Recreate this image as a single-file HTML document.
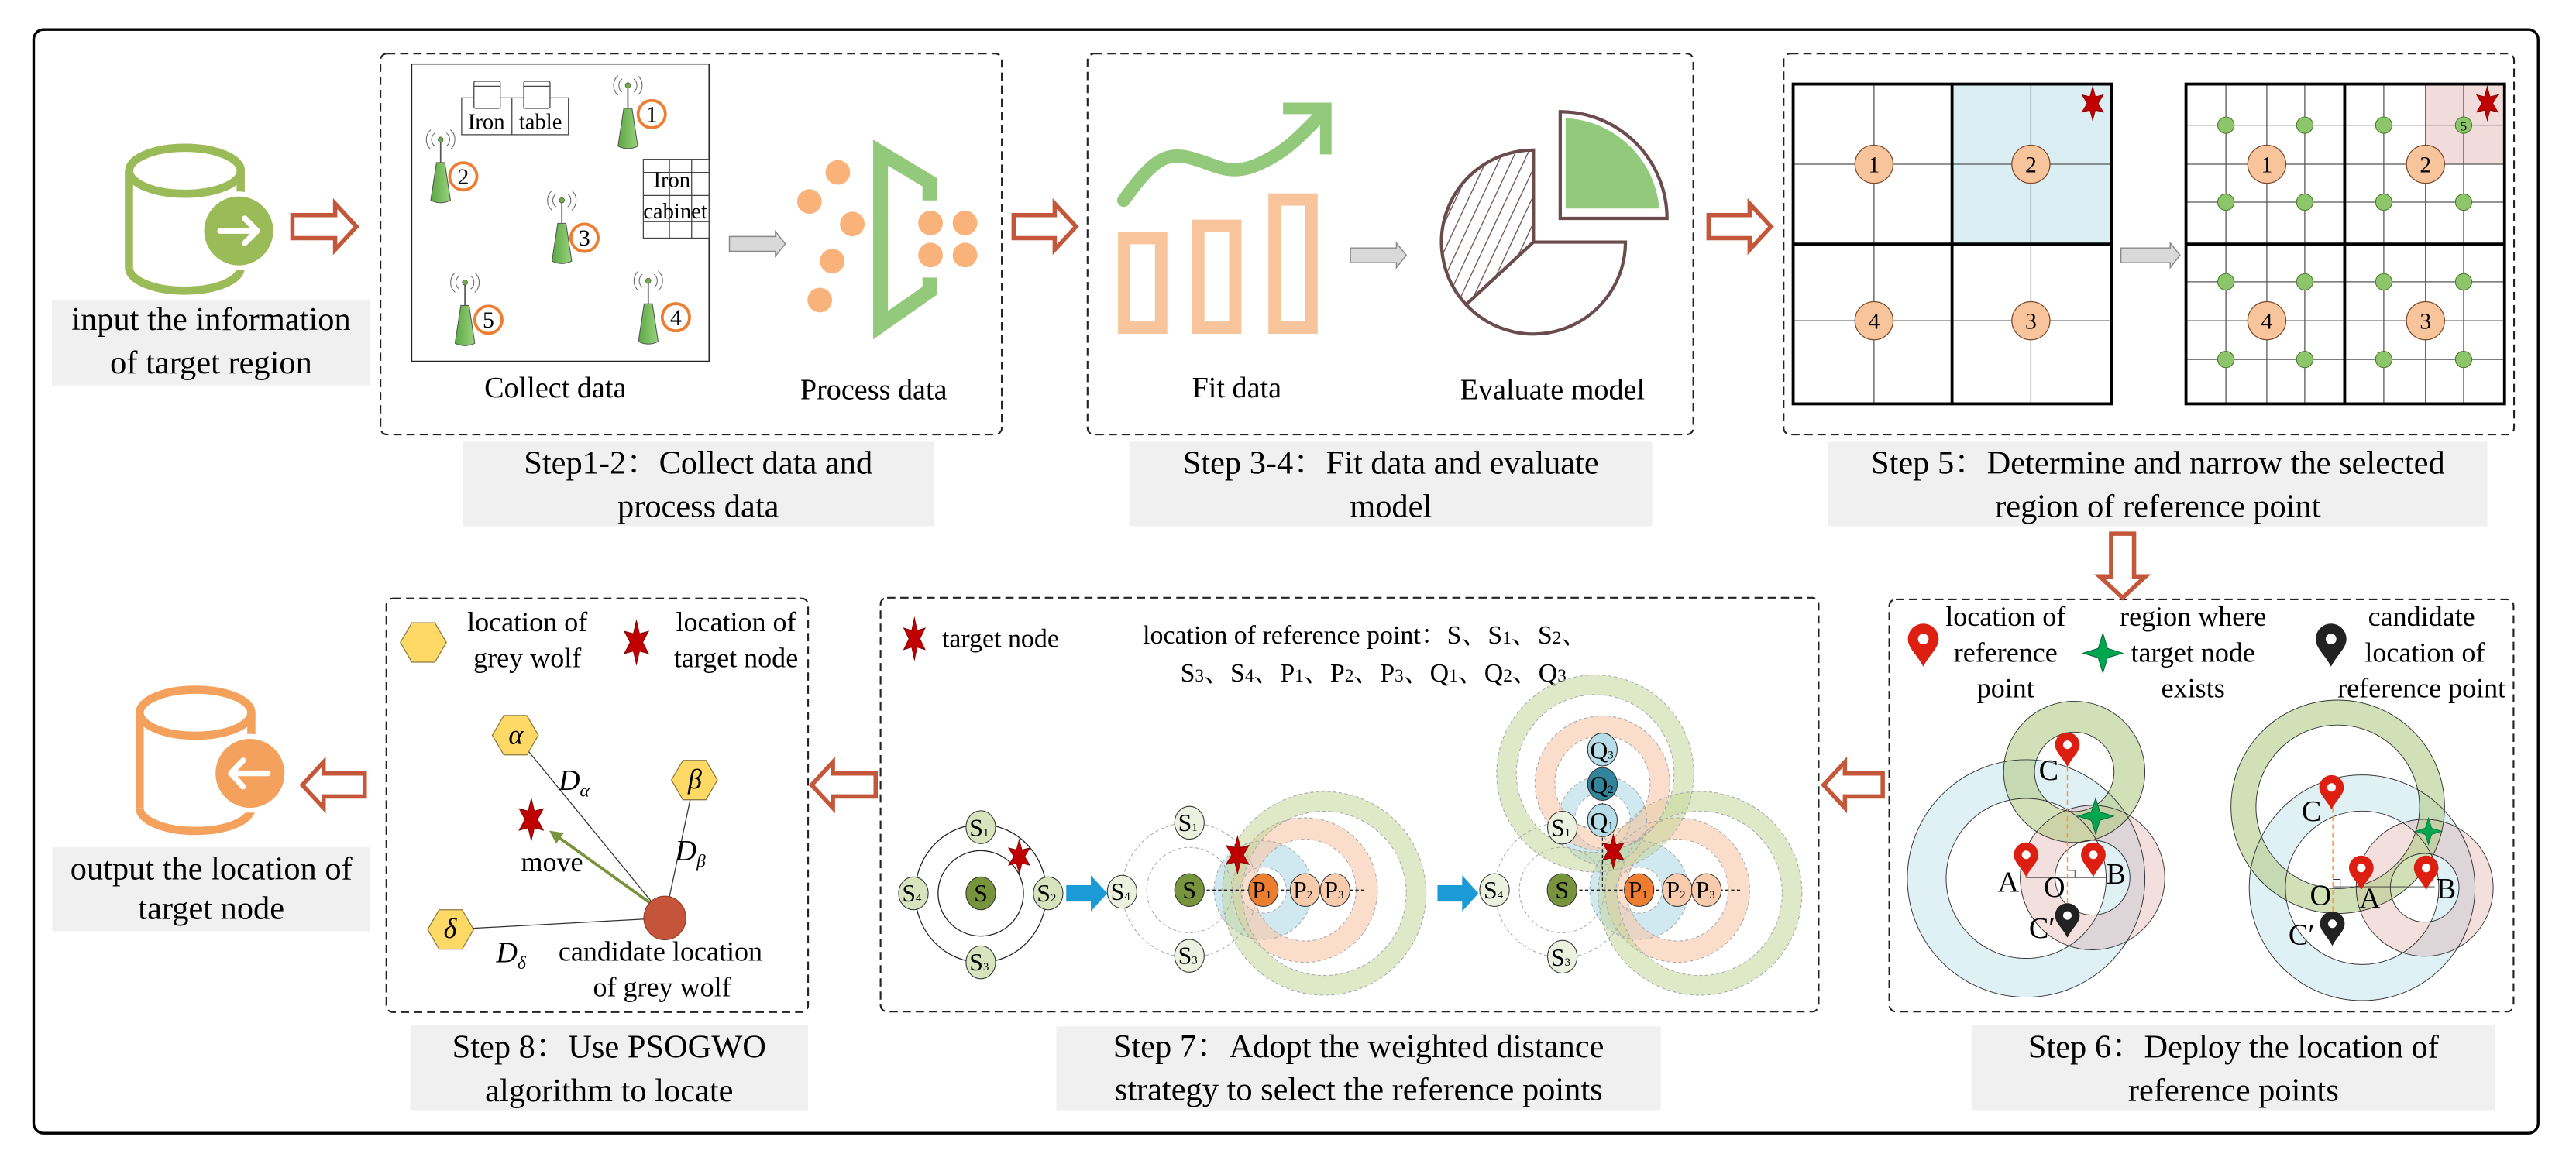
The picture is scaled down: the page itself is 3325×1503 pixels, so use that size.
<!DOCTYPE html>
<html><head><meta charset="utf-8"><style>
html,body{margin:0;padding:0;background:#fff;}
svg{display:block;font-family:"Liberation Serif","Times New Roman","DejaVu Serif","Noto Serif CJK SC",serif;}
svg text, svg tspan{font-family:"Liberation Serif","Times New Roman","DejaVu Serif","Noto Serif CJK SC",serif;fill:#000;}
</style></head><body>
<svg width="3325" height="1503" viewBox="0 0 1568 708.8" preserveAspectRatio="none" xmlns="http://www.w3.org/2000/svg" font-family="Liberation Serif, Times New Roman, DejaVu Serif, Noto Serif CJK SC, serif">
<defs>
<polygon id="star" points="0,-10 2.25,-3.9 8.66,-5 4.5,0 8.66,5 2.25,3.9 0,10 -2.25,3.9 -8.66,5 -4.5,0 -8.66,-5 -2.25,-3.9" fill="#c00000" stroke="#7a0000" stroke-width="0.4"/>
<polygon id="star4" points="0,-11 2.6,-2.6 11,0 2.6,2.6 0,11 -2.6,2.6 -11,0 -2.6,-2.6" fill="#00a550" stroke="#05602f" stroke-width="0.4"/>
<g id="pinr"><path d="M0 0 C -3 -6 -7.5 -9 -7.5 -13.5 A 7.5 7.5 0 1 1 7.5 -13.5 C 7.5 -9 3 -6 0 0 Z" fill="#dc1f10"/><circle cx="0" cy="-13.5" r="2.6" fill="#fff"/></g>
<g id="pink"><path d="M0 0 C -3 -6 -7.5 -9 -7.5 -13.5 A 7.5 7.5 0 1 1 7.5 -13.5 C 7.5 -9 3 -6 0 0 Z" fill="#222"/><circle cx="0" cy="-13.5" r="2.6" fill="#fff"/></g>
<polygon id="hex" points="-14,0 -7,-12 7,-12 14,0 7,12 -7,12" fill="#ffd966" stroke="#8a7a40" stroke-width="0.6"/>
<linearGradient id="ag" x1="0" x2="1"><stop offset="0" stop-color="#5aa843"/><stop offset="1" stop-color="#9bd27e"/></linearGradient>
<g id="ant">
<line x1="0" y1="-12" x2="0" y2="-26" stroke="#555" stroke-width="0.8"/>
<circle cx="0" cy="-26" r="1.6" fill="#70ad47" stroke="#444" stroke-width="0.3"/>
<path d="M-3.5 -30 A 5 5 0 0 0 -3.5 -22 M-6 -32 A 8 8 0 0 0 -6 -20 M3.5 -30 A 5 5 0 0 1 3.5 -22 M6 -32 A 8 8 0 0 1 6 -20" fill="none" stroke="#666" stroke-width="0.5"/>
<path d="M-2.5 -12 L2.5 -12 L6 11 Q0 14 -6 11 Z" fill="url(#ag)" stroke="#555" stroke-width="0.5"/>
</g>
<marker id="gah" markerWidth="8" markerHeight="8" refX="6" refY="4" orient="auto" markerUnits="userSpaceOnUse"><path d="M0 0 L8 4 L0 8 Z" fill="#77933c"/></marker>
<pattern id="hatch" width="7" height="7" patternUnits="userSpaceOnUse" patternTransform="rotate(25)"><line x1="0" y1="0" x2="0" y2="7" stroke="#6b4c4c" stroke-width="1.2"/></pattern>
</defs>

<rect x="20.5" y="18" width="1524.5" height="672" rx="6" fill="none" stroke="#000" stroke-width="1.6"/>

<g fill="none" stroke="#222" stroke-width="1" stroke-dasharray="5,3">
<rect x="231.6" y="32.6" width="378.2" height="232" rx="4"/>
<rect x="662" y="32.6" width="368.7" height="232" rx="4"/>
<rect x="1085.7" y="32.6" width="444.6" height="232" rx="4"/>
<rect x="1150" y="365" width="380" height="251" rx="4"/>
<rect x="536" y="364" width="571" height="252" rx="4"/>
<rect x="235.2" y="364.4" width="256.7" height="251.9" rx="4"/>
</g>

<g fill="#f0f0f0">
<rect x="31.6" y="183" width="193.7" height="51.7"/>
<rect x="282" y="269" width="286.5" height="51.4"/>
<rect x="687.4" y="269" width="318.4" height="51.4"/>
<rect x="1112.9" y="269" width="401.1" height="51.4"/>
<rect x="1200" y="624" width="319" height="52"/>
<rect x="643" y="625" width="368" height="51"/>
<rect x="249.7" y="624.3" width="242.2" height="51.7"/>
<rect x="31.8" y="516" width="193.7" height="51"/>
</g>
<g font-size="20" text-anchor="middle">
<text x="128.5" y="201">input the information</text>
<text x="128.5" y="227.4">of target region</text>
<text x="425" y="288.4">Step1-2：Collect data and</text>
<text x="425" y="314.7">process data</text>
<text x="846.6" y="288.4">Step 3-4：Fit data and evaluate</text>
<text x="846.6" y="314.7">model</text>
<text x="1313.5" y="288.4">Step 5：Determine and narrow the selected</text>
<text x="1313.5" y="314.7">region of reference point</text>
<text x="1359.5" y="643.9">Step 6：Deploy the location of</text>
<text x="1359.5" y="670.3">reference points</text>
<text x="827" y="643.7">Step 7：Adopt the weighted distance</text>
<text x="827" y="670">strategy to select the reference points</text>
<text x="370.8" y="644">Step 8：Use PSOGWO</text>
<text x="370.8" y="670.6">algorithm to locate</text>
<text x="128.6" y="535.4">output the location of</text>
<text x="128.6" y="559.5">target node</text>
</g>

<g fill="#fff" stroke="#c4573a" stroke-width="2.6" stroke-linejoin="miter">
<path d="M178 131 L204 131 L204 124 L217 138 L204 152 L204 145 L178 145 Z"/>
<path d="M617 131 L642 131 L642 124 L655 138 L642 152 L642 145 L617 145 Z"/>
<path d="M1040 131 L1065 131 L1065 124 L1078 138 L1065 152 L1065 145 L1040 145 Z"/>
<path d="M1285 325 L1299 325 L1299 351 L1306 351 L1292 364 L1278 351 L1285 351 Z"/>
<path d="M1146 471 L1123 471 L1123 464 L1110 478 L1123 492 L1123 485 L1146 485 Z"/>
<path d="M533 471 L507 471 L507 464 L494 478 L507 492 L507 485 L533 485 Z"/>
<path d="M222 471 L197 471 L197 464 L184 478 L197 492 L197 485 L222 485 Z"/>
</g>

<g fill="#d9d9d9" stroke="#888" stroke-width="0.7">
<path d="M444 144 L472 144 L472 141 L478 148.4 L472 156 L472 153 L444 153 Z"/>
<path d="M822 151 L850 151 L850 148 L856 155.4 L850 163 L850 160 L822 160 Z"/>
<path d="M1291 151 L1321 151 L1321 148 L1327 155.4 L1321 163 L1321 160 L1291 160 Z"/>
</g>

<g fill="none" stroke="#9bbb59" stroke-width="5">
<ellipse cx="112.6" cy="104" rx="34" ry="14"/>
<line x1="78.5" y1="104" x2="78.5" y2="163"/>
<line x1="146.5" y1="104" x2="146.5" y2="125"/>
<path d="M78.5 163 A 34 14 0 0 0 146.5 163"/>
</g>
<circle cx="145.3" cy="140.6" r="24" fill="#fff"/>
<circle cx="145.3" cy="140.6" r="21" fill="#9bbb59"/>
<path d="M134 140.6 L156 140.6 M149 133 L156.5 140.6 L149 148" fill="none" stroke="#fff" stroke-width="3.5" stroke-linecap="round" stroke-linejoin="round"/>

<g fill="none" stroke="#f4a15d" stroke-width="5">
<ellipse cx="119" cy="434" rx="34" ry="14"/>
<line x1="85" y1="434" x2="85" y2="492"/>
<line x1="153" y1="434" x2="153" y2="455"/>
<path d="M85 492 A 34 14 0 0 0 153 492"/>
</g>
<circle cx="152.2" cy="470.9" r="24" fill="#fff"/>
<circle cx="152.2" cy="470.9" r="21" fill="#f4a15d"/>
<path d="M163 470.9 L141 470.9 M148 463 L140.5 470.9 L148 479" fill="none" stroke="#fff" stroke-width="3.5" stroke-linecap="round" stroke-linejoin="round"/>

<rect x="250.6" y="39" width="181" height="181" fill="#fff" stroke="#222" stroke-width="0.7"/>
<g fill="#fff" stroke="#444" stroke-width="0.6">
<rect x="281" y="59.6" width="65" height="22.4"/>
<line x1="311.6" y1="59.6" x2="311.6" y2="82"/>
<rect x="288.5" y="49.5" width="16" height="16.5" rx="1"/>
<line x1="288.5" y1="52.5" x2="304.5" y2="52.5"/>
<rect x="318.8" y="49.5" width="16" height="16.5" rx="1"/>
<line x1="318.8" y1="52.5" x2="334.8" y2="52.5"/>
<rect x="391.6" y="97" width="40" height="48"/>
<line x1="407.5" y1="97" x2="407.5" y2="145"/><line x1="421" y1="97" x2="421" y2="145"/>
<line x1="391.6" y1="105" x2="431.6" y2="105"/><line x1="391.6" y1="119" x2="431.6" y2="119"/><line x1="391.6" y1="135" x2="431.6" y2="135"/>
</g>
<g font-size="13.5" text-anchor="middle">
<text x="296" y="78.5">Iron</text><text x="329" y="78.5">table</text>
<text x="409" y="114">Iron</text><text x="411" y="133">cabinet</text>
</g>
<use href="#ant" x="382.2" y="78"/>
<use href="#ant" x="268.2" y="111"/>
<use href="#ant" x="342" y="148"/>
<use href="#ant" x="283" y="198"/>
<use href="#ant" x="394.6" y="197"/>
<g fill="#fff" stroke="#ed7d31" stroke-width="1.8">
<circle cx="396.7" cy="69.5" r="8.3"/><circle cx="282" cy="107.4" r="8.3"/><circle cx="355.8" cy="144.8" r="8.3"/><circle cx="297.3" cy="194.7" r="8.3"/><circle cx="411.4" cy="193.2" r="8.3"/>
</g>
<g font-size="14" text-anchor="middle">
<text x="396.7" y="74.3">1</text><text x="282" y="112.2">2</text><text x="355.8" y="149.6">3</text><text x="297.3" y="199.5">5</text><text x="411.4" y="198">4</text>
</g>
<g font-size="18" text-anchor="middle">
<text x="338" y="242">Collect data</text>
<text x="531.8" y="243">Process data</text>
<text x="752.8" y="242">Fit data</text>
<text x="945" y="243">Evaluate model</text>
</g>
<g fill="#f9b27a">
<circle cx="510" cy="105" r="7.5"/><circle cx="492.7" cy="122.7" r="7.5"/><circle cx="518.8" cy="136.4" r="7.5"/><circle cx="506.6" cy="159" r="7.5"/><circle cx="499" cy="182.7" r="7.5"/>
<circle cx="566.4" cy="135.8" r="7.5"/><circle cx="587.4" cy="135.8" r="7.5"/><circle cx="566.4" cy="155.3" r="7.5"/><circle cx="587.4" cy="155.3" r="7.5"/>
</g>
<path d="M566 122 L566 111 L536 93 L536 198 L566 177 L566 169" fill="none" stroke="#93c97a" stroke-width="9"/>

<g fill="none" stroke="#f8c49c" stroke-width="7.5">
<rect x="684.3" y="145" width="22.5" height="54.5"/>
<rect x="729.4" y="137.5" width="22.5" height="62"/>
<rect x="775.8" y="121.5" width="22.5" height="78"/>
</g>
<path d="M684 122 C 700 100 708 92 724 96 C 740 100 748 108 766 100 C 784 92 792 82 806 68" fill="none" stroke="#93c97a" stroke-width="8" stroke-linecap="round"/>
<path d="M781 66 L807 66 L807 94" fill="none" stroke="#93c97a" stroke-width="7"/>
<path d="M933.4 147.4 L933.4 91.4 A 56 56 0 0 0 892.4 185.5 Z" fill="url(#hatch)" stroke="#6b4c4c" stroke-width="2"/>
<path d="M933.4 147.4 L989.4 147.4 A 56 56 0 0 1 892.4 185.5 Z" fill="#fff" stroke="#6b4c4c" stroke-width="2"/>
<path d="M949.7 133 L949.7 68 A 65 65 0 0 1 1014.7 133 Z" fill="#fff" stroke="#6b4c4c" stroke-width="2"/>
<path d="M953 127 L953 72 A 60 60 0 0 1 1010 127 Z" fill="#93c97a"/>

<rect x="1188.2" y="51.2" width="97.2" height="97.4" fill="#daeef3"/>
<rect x="1476.4" y="52" width="48.1" height="48" fill="#f2dcdb"/>
<g stroke="#555" stroke-width="0.6">
<line x1="1140.7" y1="51" x2="1140.7" y2="246"/><line x1="1236.2" y1="51" x2="1236.2" y2="246"/>
<line x1="1091.5" y1="100" x2="1285.4" y2="100"/><line x1="1091.5" y1="195.3" x2="1285.4" y2="195.3"/>
<line x1="1354.9" y1="51" x2="1354.9" y2="246"/><line x1="1379.8" y1="51" x2="1379.8" y2="246"/><line x1="1402.9" y1="51" x2="1402.9" y2="246"/>
<line x1="1451" y1="51" x2="1451" y2="246"/><line x1="1476.4" y1="51" x2="1476.4" y2="246"/><line x1="1499.6" y1="51" x2="1499.6" y2="246"/>
<line x1="1330.6" y1="76.2" x2="1524.5" y2="76.2"/><line x1="1330.6" y1="100" x2="1524.5" y2="100"/><line x1="1330.6" y1="123.1" x2="1524.5" y2="123.1"/>
<line x1="1330.6" y1="171.6" x2="1524.5" y2="171.6"/><line x1="1330.6" y1="195.3" x2="1524.5" y2="195.3"/><line x1="1330.6" y1="218.9" x2="1524.5" y2="218.9"/>
</g>
<g fill="none" stroke="#000" stroke-width="1.8">
<rect x="1091.5" y="51.2" width="193.9" height="194.7"/>
<line x1="1188.2" y1="51.2" x2="1188.2" y2="246"/><line x1="1091.5" y1="148.6" x2="1285.4" y2="148.6"/>
<rect x="1330.6" y="51.2" width="193.9" height="194.7"/>
<line x1="1427.2" y1="51.2" x2="1427.2" y2="246"/><line x1="1330.6" y1="148.6" x2="1524.5" y2="148.6"/>
</g>
<g fill="#f8c49c" stroke="#7a4a2a" stroke-width="0.6">
<circle cx="1140.7" cy="100" r="11.6"/><circle cx="1236.2" cy="100" r="11.6"/><circle cx="1140.7" cy="195.3" r="11.6"/><circle cx="1236.2" cy="195.3" r="11.6"/>
<circle cx="1379.8" cy="100" r="11.6"/><circle cx="1476.4" cy="100" r="11.6"/><circle cx="1379.8" cy="195.3" r="11.6"/><circle cx="1476.4" cy="195.3" r="11.6"/>
</g>
<g font-size="14" text-anchor="middle">
<text x="1140.7" y="105">1</text><text x="1236.2" y="105">2</text><text x="1140.7" y="200.3">4</text><text x="1236.2" y="200.3">3</text>
<text x="1379.8" y="105">1</text><text x="1476.4" y="105">2</text><text x="1379.8" y="200.3">4</text><text x="1476.4" y="200.3">3</text>
</g>
<g fill="#8cc56a" stroke="#4a7a30" stroke-width="0.5">
<circle cx="1354.9" cy="76.2" r="5"/><circle cx="1402.9" cy="76.2" r="5"/><circle cx="1451" cy="76.2" r="5"/><circle cx="1499.6" cy="76.2" r="5"/>
<circle cx="1354.9" cy="123.1" r="5"/><circle cx="1402.9" cy="123.1" r="5"/><circle cx="1451" cy="123.1" r="5"/><circle cx="1499.6" cy="123.1" r="5"/>
<circle cx="1354.9" cy="171.6" r="5"/><circle cx="1402.9" cy="171.6" r="5"/><circle cx="1451" cy="171.6" r="5"/><circle cx="1499.6" cy="171.6" r="5"/>
<circle cx="1354.9" cy="218.9" r="5"/><circle cx="1402.9" cy="218.9" r="5"/><circle cx="1451" cy="218.9" r="5"/><circle cx="1499.6" cy="218.9" r="5"/>
</g>
<text x="1499.6" y="79.5" font-size="8" text-anchor="middle">5</text>
<use href="#star" transform="translate(1273.8 63) scale(0.75 1.05)"/>
<use href="#star" transform="translate(1514 63) scale(0.75 1.05)"/>

<g fill="none">
<circle cx="1233.3" cy="534.9" r="60.5" stroke="#daeef3" stroke-width="23.6" opacity="0.85"/>
<circle cx="1273.7" cy="534.4" r="33.4" stroke="#d99694" stroke-width="21.2" opacity="0.3"/>
<circle cx="1262.6" cy="470" r="33.6" stroke="#b3cc85" stroke-width="18.8" opacity="0.6"/>
<circle cx="1437.8" cy="540.6" r="57.7" stroke="#daeef3" stroke-width="22" opacity="0.85"/>
<circle cx="1475.9" cy="540.6" r="31.3" stroke="#d99694" stroke-width="20.8" opacity="0.3"/>
<circle cx="1423" cy="491.3" r="57.4" stroke="#b3cc85" stroke-width="15.2" opacity="0.6"/>
</g>
<g fill="none" stroke="#333" stroke-width="0.45">
<circle cx="1233.3" cy="534.9" r="72.3"/><circle cx="1233.3" cy="534.9" r="48.7"/>
<circle cx="1273.7" cy="534.4" r="44"/><circle cx="1273.7" cy="534.4" r="22.8"/>
<circle cx="1262.6" cy="470" r="43"/><circle cx="1262.6" cy="470" r="24.2"/>
<circle cx="1437.8" cy="540.6" r="68.7"/><circle cx="1437.8" cy="540.6" r="46.7"/>
<circle cx="1475.9" cy="540.6" r="41.7"/><circle cx="1475.9" cy="540.6" r="20.9"/>
<circle cx="1423" cy="491.3" r="65"/><circle cx="1423" cy="491.3" r="49.8"/>
<line x1="1233" y1="534.4" x2="1282" y2="534.4"/>
<line x1="1420" y1="540" x2="1482" y2="540"/>
<path d="M1258.4 530 L1263 530 L1263 534.4 M1420 535.5 L1424.5 535.5 L1424.5 540"/>
</g>
<g stroke="#f79646" stroke-width="0.7" stroke-dasharray="3,2">
<line x1="1258.4" y1="467" x2="1258.4" y2="560"/>
<line x1="1420" y1="492" x2="1420" y2="566"/>
</g>
<use href="#pinr" x="1258.4" y="467"/>
<use href="#pinr" x="1233.3" y="534"/>
<use href="#pinr" x="1274.2" y="534"/>
<use href="#pink" x="1258.4" y="571"/>
<use href="#pinr" x="1419.2" y="493"/>
<use href="#pinr" x="1437.3" y="542"/>
<use href="#pinr" x="1476.8" y="542"/>
<use href="#pink" x="1419.7" y="576"/>
<use href="#star4" x="1275.6" y="497"/>
<use href="#star4" transform="translate(1478.2 506.2) scale(0.75)"/>
<g font-size="18">
<text x="1216" y="543">A</text><text x="1244" y="546">O</text><text x="1282" y="538">B</text><text x="1241" y="475">C</text><text x="1235" y="571">C′</text>
<text x="1401" y="500">C</text><text x="1406" y="551">O</text><text x="1436" y="553">A</text><text x="1483" y="547">B</text><text x="1393" y="575">C′</text>
</g>
<use href="#pinr" transform="translate(1170.7 406) scale(1.25)"/>
<use href="#star4" transform="translate(1280 397.7) scale(1.1)"/>
<use href="#pink" transform="translate(1418.9 406) scale(1.25)"/>
<g font-size="17" text-anchor="middle">
<text x="1220.8" y="381">location of</text><text x="1220.8" y="403">reference</text><text x="1220.8" y="424.7">point</text>
<text x="1334.9" y="381">region where</text><text x="1334.9" y="403">target node</text><text x="1334.9" y="424.7">exists</text>
<text x="1474" y="381">candidate</text><text x="1476" y="403">location of</text><text x="1474" y="424.7">reference point</text>
</g>

<use href="#star" transform="translate(556.6 389) scale(0.75 1.3)"/>
<text x="573.4" y="394" font-size="16">target node</text>
<g font-size="16" text-anchor="middle">
<text x="831" y="392">location of reference point：S、S<tspan font-size="11">1</tspan>、S<tspan font-size="11">2</tspan>、</text>
<text x="836" y="415">S<tspan font-size="11">3</tspan>、S<tspan font-size="11">4</tspan>、P<tspan font-size="11">1</tspan>、P<tspan font-size="11">2</tspan>、P<tspan font-size="11">3</tspan>、Q<tspan font-size="11">1</tspan>、Q<tspan font-size="11">2</tspan>、Q<tspan font-size="11">3</tspan></text>
</g>
<g fill="none" stroke="#222" stroke-width="0.6">
<ellipse cx="597" cy="544" rx="26" ry="26"/>
<ellipse cx="597" cy="544" rx="40" ry="42"/>
</g>
<g fill="none">
<circle cx="769" cy="542" r="22" stroke="#b7dde8" stroke-width="16" opacity="0.65"/>
<circle cx="794.4" cy="542" r="37.5" stroke="#f8cbad" stroke-width="13" opacity="0.65"/>
<circle cx="806" cy="544" r="56" stroke="#c4d79b" stroke-width="12" opacity="0.55"/>
<circle cx="997.7" cy="542" r="22" stroke="#b7dde8" stroke-width="16" opacity="0.65"/>
<circle cx="1021" cy="542" r="37.5" stroke="#f8cbad" stroke-width="13" opacity="0.65"/>
<circle cx="1034.8" cy="544" r="56" stroke="#c4d79b" stroke-width="12" opacity="0.55"/>
<circle cx="975.4" cy="499.5" r="22" stroke="#b7dde8" stroke-width="10" opacity="0.65"/>
<circle cx="975.4" cy="477" r="35" stroke="#f8cbad" stroke-width="12" opacity="0.65"/>
<circle cx="971" cy="471" r="54" stroke="#c4d79b" stroke-width="12" opacity="0.55"/>
</g>
<g fill="none" stroke="#aaa" stroke-width="0.5" stroke-dasharray="2,1.5">
<circle cx="724" cy="542" r="26"/><circle cx="724" cy="542" r="41"/>
<circle cx="950.8" cy="542" r="26"/><circle cx="950.8" cy="542" r="41"/>
<circle cx="769" cy="542" r="14"/><circle cx="769" cy="542" r="30"/>
<circle cx="794.4" cy="542" r="31"/><circle cx="794.4" cy="542" r="44"/>
<circle cx="806" cy="544" r="50"/><circle cx="806" cy="544" r="62"/>
<circle cx="997.7" cy="542" r="14"/><circle cx="997.7" cy="542" r="30"/>
<circle cx="1021" cy="542" r="31"/><circle cx="1021" cy="542" r="44"/>
<circle cx="1034.8" cy="544" r="50"/><circle cx="1034.8" cy="544" r="62"/>
<circle cx="975.4" cy="499.5" r="17"/><circle cx="975.4" cy="499.5" r="27"/>
<circle cx="975.4" cy="477" r="29"/><circle cx="975.4" cy="477" r="41"/>
<circle cx="971" cy="471" r="48"/><circle cx="971" cy="471" r="60"/>
</g>
<g stroke="#222" stroke-width="0.6" stroke-dasharray="2,1.5">
<line x1="724" y1="542" x2="769" y2="542"/><line x1="769" y1="542" x2="830" y2="542"/>
<line x1="950.8" y1="542" x2="997.7" y2="542"/><line x1="997.7" y1="542" x2="1060" y2="542"/>
<line x1="975.4" y1="447" x2="975.4" y2="542"/>
</g>
<g fill="#1a9ad6">
<path d="M649 539 L664 539 L664 533 L674 544 L664 555 L664 549 L649 549 Z"/>
<path d="M875 539 L890 539 L890 533 L900 544 L890 555 L890 549 L875 549 Z"/>
</g>
<g stroke="#333" stroke-width="0.5">
<ellipse cx="597" cy="544" rx="9" ry="10" fill="#77933c"/>
<ellipse cx="597" cy="503.7" rx="9" ry="10" fill="#d7e4bd"/>
<ellipse cx="638" cy="544" rx="9" ry="10" fill="#d7e4bd"/>
<ellipse cx="597" cy="586" rx="9" ry="10" fill="#d7e4bd"/>
<ellipse cx="556" cy="544" rx="9" ry="10" fill="#d7e4bd"/>
<ellipse cx="683" cy="543" rx="9" ry="10" fill="#ebf1de"/>
<ellipse cx="724" cy="542" rx="9" ry="10" fill="#77933c"/>
<ellipse cx="724" cy="501" rx="9" ry="10" fill="#ebf1de"/>
<ellipse cx="724" cy="582" rx="9" ry="10" fill="#ebf1de"/>
<ellipse cx="769" cy="542" rx="9" ry="10" fill="#ed7d31"/>
<ellipse cx="794.4" cy="542" rx="9" ry="10" fill="#f8cbad"/>
<ellipse cx="812.7" cy="542" rx="9" ry="10" fill="#f8cbad"/>
<ellipse cx="909.7" cy="542" rx="9" ry="10" fill="#ebf1de"/>
<ellipse cx="950.8" cy="542" rx="9" ry="10" fill="#77933c"/>
<ellipse cx="951" cy="504" rx="9" ry="10" fill="#ebf1de"/>
<ellipse cx="951" cy="582.6" rx="9" ry="10" fill="#ebf1de"/>
<ellipse cx="997.7" cy="542" rx="9" ry="10" fill="#ed7d31"/>
<ellipse cx="1021" cy="542" rx="9" ry="10" fill="#f8cbad"/>
<ellipse cx="1038.7" cy="542" rx="9" ry="10" fill="#f8cbad"/>
<ellipse cx="975.4" cy="499.5" rx="9" ry="10" fill="#b7dde8"/>
<ellipse cx="975.4" cy="477.4" rx="9" ry="10" fill="#31849b"/>
<ellipse cx="975.4" cy="456.4" rx="9" ry="10" fill="#b7dde8"/>
</g>
<g font-size="15" text-anchor="middle">
<text x="597" y="549">S</text>
<text x="596" y="509">S<tspan font-size="7">1</tspan></text>
<text x="637" y="549">S<tspan font-size="7">2</tspan></text>
<text x="596" y="591">S<tspan font-size="7">3</tspan></text>
<text x="555" y="549">S<tspan font-size="7">4</tspan></text>
<text x="682" y="548">S<tspan font-size="7">4</tspan></text>
<text x="724" y="547">S</text>
<text x="723" y="506">S<tspan font-size="7">1</tspan></text>
<text x="723" y="587">S<tspan font-size="7">3</tspan></text>
<text x="768" y="547">P<tspan font-size="7">1</tspan></text>
<text x="793" y="547">P<tspan font-size="7">2</tspan></text>
<text x="812" y="547">P<tspan font-size="7">3</tspan></text>
<text x="909" y="547">S<tspan font-size="7">4</tspan></text>
<text x="950.8" y="547">S</text>
<text x="950" y="509">S<tspan font-size="7">1</tspan></text>
<text x="950" y="588">S<tspan font-size="7">3</tspan></text>
<text x="997" y="547">P<tspan font-size="7">1</tspan></text>
<text x="1020" y="547">P<tspan font-size="7">2</tspan></text>
<text x="1038" y="547">P<tspan font-size="7">3</tspan></text>
<text x="975" y="505">Q<tspan font-size="7">1</tspan></text>
<text x="975" y="483">Q<tspan font-size="7">2</tspan></text>
<text x="975" y="462">Q<tspan font-size="7">3</tspan></text>
</g>
<use href="#star" transform="translate(620.4 521.6) scale(0.75 1.05)"/>
<use href="#star" transform="translate(753.3 520.6) scale(0.8 1.15)"/>
<use href="#star" transform="translate(982 518.5) scale(0.75 1.05)"/>

<use href="#hex" x="257.7" y="391.2"/>
<use href="#star" transform="translate(387.4 391.2) scale(0.85 1.35)"/>
<g font-size="17" text-anchor="middle">
<text x="321" y="384.4">location of</text><text x="321" y="406.2">grey wolf</text>
<text x="448" y="384.4">location of</text><text x="448" y="406.2">target node</text>
<text x="336" y="530.5">move</text>
<text x="402" y="585">candidate location</text>
<text x="403" y="606.6">of grey wolf</text>
</g>
<g stroke="#333" stroke-width="0.6">
<line x1="404.7" y1="559" x2="313.7" y2="447.7"/>
<line x1="404.7" y1="559" x2="422.7" y2="475"/>
<line x1="404.7" y1="559" x2="274.3" y2="566"/>
</g>
<line x1="396" y1="550" x2="336" y2="507" stroke="#77933c" stroke-width="1.8" marker-end="url(#gah)"/>
<ellipse cx="404.7" cy="559" rx="12.8" ry="13.3" fill="#c5553a" stroke="#8a3a25" stroke-width="0.5"/>
<use href="#hex" x="313.7" y="447.7"/>
<use href="#hex" x="422.7" y="475"/>
<use href="#hex" x="274.3" y="566"/>
<use href="#star" transform="translate(323.4 499) scale(0.85 1.3)"/>
<g font-size="17" font-style="italic" text-anchor="middle">
<text x="314" y="453">α</text><text x="423" y="480">β</text><text x="274" y="571">δ</text>
</g>
<g font-size="18" font-style="italic">
<text x="340" y="481">D<tspan font-size="11" dy="4">α</tspan></text>
<text x="411" y="524">D<tspan font-size="11" dy="4">β</tspan></text>
<text x="302" y="586">D<tspan font-size="11" dy="4">δ</tspan></text>
</g>
</svg>
</body></html>
